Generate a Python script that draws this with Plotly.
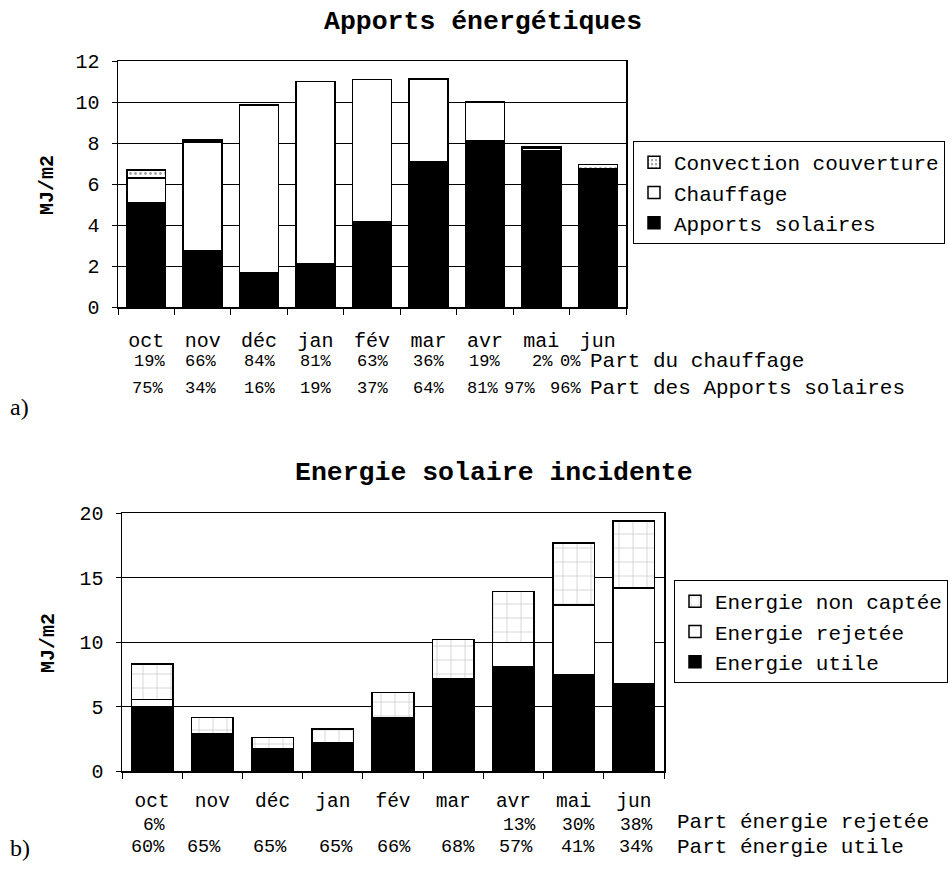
import plotly.graph_objects as go

# ---------------- data ----------------
months = ["oct", "nov", "déc", "jan", "fév", "mar", "avr", "mai", "jun"]

# a) Apports énergétiques (MJ/m2)
apports_solaires = [5.1, 2.75, 1.65, 2.1, 4.15, 7.1, 8.1, 7.6, 6.75]
chauffage = [1.2, 5.3, 8.2, 8.9, 6.95, 4.0, 1.9, 0.15, 0.0]
convection_couverture = [0.38, 0.1, 0.0, 0.0, 0.0, 0.05, 0.0, 0.07, 0.2]
part_chauffage = ["19%", "66%", "84%", "81%", "63%", "36%", "19%", "2%", "0%"]
part_solaires = ["75%", "34%", "16%", "19%", "37%", "64%", "81%", "97%", "96%"]

# b) Energie solaire incidente (MJ/m2)
energie_utile = [4.98, 2.85, 1.7, 2.2, 4.15, 7.15, 8.1, 7.45, 6.75]
energie_rejetee = [0.55, 0.0, 0.0, 0.0, 0.0, 0.0, 1.85, 5.4, 7.45]
energie_non_captee = [2.77, 1.3, 0.88, 1.07, 1.95, 3.05, 3.95, 4.82, 5.17]
part_rejetee = ["6%", "", "", "", "", "", "13%", "30%", "38%"]
part_utile = ["60%", "65%", "65%", "65%", "66%", "68%", "57%", "41%", "34%"]

# ---------------- layout helpers ----------------
W, H = 950, 871
def fx(p):
    return p / W
def fy(p):
    return 1 - p / H

MONO = "Liberation Mono, Courier New, monospace"
SERIF = "Liberation Serif, Times New Roman, serif"
OUT = dict(color="black", width=1.5)

fig = go.Figure()

# top chart
fig.add_bar(x=months, y=apports_solaires, name="Apports solaires",
            marker=dict(color="black", line=OUT), xaxis="x", yaxis="y", legend="legend")
fig.add_bar(x=months, y=chauffage, name="Chauffage",
            marker=dict(color="white", line=OUT), xaxis="x", yaxis="y", legend="legend")
fig.add_bar(x=months, y=convection_couverture, name="Convection couverture",
            marker=dict(color="white", line=OUT,
                        pattern=dict(shape=".", fgcolor="#444", bgcolor="white", size=5, solidity=0.25)),
            xaxis="x", yaxis="y", legend="legend")

# bottom chart
fig.add_bar(x=months, y=energie_utile, name="Energie utile",
            marker=dict(color="black", line=OUT), xaxis="x2", yaxis="y2", legend="legend2")
fig.add_bar(x=months, y=energie_rejetee, name="Energie rejetée",
            marker=dict(color="white", line=OUT), xaxis="x2", yaxis="y2", legend="legend2")
fig.add_bar(x=months, y=energie_non_captee, name="Energie non captée",
            marker=dict(color="white", line=OUT,
                        pattern=dict(shape="+", fgcolor="#777", bgcolor="white", size=14, solidity=0.08)),
            xaxis="x2", yaxis="y2", legend="legend2")

xcommon = dict(type="category", showline=True, linecolor="black", linewidth=1.5, mirror=True,
               ticks="outside", tickson="boundaries", ticklen=6, tickcolor="black",
               tickfont=dict(family=MONO, size=20, color="black"), showgrid=False,
               automargin=False)
ycommon = dict(showline=True, linecolor="black", linewidth=1.5, mirror=True,
               ticks="outside", ticklen=5, tickcolor="black",
               tickfont=dict(family=MONO, size=20, color="black"),
               showgrid=True, gridcolor="black", gridwidth=1, zeroline=False,
               ticklabelstandoff=8, automargin=False)

legcommon = dict(bgcolor="white", bordercolor="black", borderwidth=1,
                 traceorder="reversed", xanchor="left", yanchor="top",
                 itemwidth=30, tracegroupgap=0)

fig.update_layout(
    width=W, height=H,
    margin=dict(l=0, r=0, t=0, b=0, autoexpand=False),
    paper_bgcolor="white", plot_bgcolor="white",
    barmode="stack", bargap=0.31,
    font=dict(family=MONO, color="black"),
    hovermode=False,
    xaxis=dict(xcommon, domain=[fx(118), fx(626)], anchor="y", ticklabelstandoff=14),
    yaxis=dict(ycommon, domain=[fy(307), fy(61)], anchor="x", range=[0, 12], dtick=2),
    xaxis2=dict(xcommon, domain=[fx(122), fx(664)], anchor="y2", ticklabelstandoff=11,
                tickfont=dict(family=MONO, size=19.5, color="black")),
    yaxis2=dict(ycommon, domain=[fy(771), fy(513)], anchor="x2", range=[0, 20], dtick=5),
    legend=dict(legcommon, x=fx(633), y=fy(141), font=dict(family=MONO, size=21, color="black")),
    legend2=dict(legcommon, x=fx(674), y=fy(580), font=dict(family=MONO, size=21, color="black")),
    showlegend=True,
)

ann = []
# titles
ann.append(dict(text="<b>Apports énergétiques</b>", x=fx(483), y=fy(22), xref="paper", yref="paper",
                showarrow=False, font=dict(family=MONO, size=26.5, color="black"),
                xanchor="center", yanchor="middle"))
ann.append(dict(text="<b>Energie solaire incidente</b>", x=fx(494), y=fy(473), xref="paper", yref="paper",
                showarrow=False, font=dict(family=MONO, size=26.5, color="black"),
                xanchor="center", yanchor="middle"))
# y axis titles
for yc in (185, 643):
    ann.append(dict(text="<b>MJ/m2</b>", x=fx(48), y=fy(yc), xref="paper", yref="paper",
                    showarrow=False, textangle=-90, font=dict(family=MONO, size=20, color="black"),
                    xanchor="center", yanchor="middle"))
# panel letters
ann.append(dict(text="a)", x=fx(8), y=fy(407), xref="paper", yref="paper", showarrow=False,
                font=dict(family=SERIF, size=24, color="black"), xanchor="left", yanchor="middle"))
ann.append(dict(text="b)", x=fx(8), y=fy(848), xref="paper", yref="paper", showarrow=False,
                font=dict(family=SERIF, size=24, color="black"), xanchor="left", yanchor="middle"))

# percentage rows: right-aligned, pixel shifts relative to category centres
shift_ch = [21, 15, 18, 17, 18, 18, 17, 14, -15]
shift_so = [19, 15, 18, 17, 18, 18, 15, -4, -15]
shift_rj = [15, 0, 0, 0, 0, 0, 25, 23, 21]
shift_ut = [15, 11, 16, 22, 20, 24, 22, 23, 21]

def row(labels, shifts, xref, ypx, size):
    for m, t, s in zip(months, labels, shifts):
        if t:
            ann.append(dict(text=t, x=m, y=fy(ypx), xref=xref, yref="paper", xshift=s,
                            showarrow=False, font=dict(family=MONO, size=size, color="black"),
                            xanchor="right", yanchor="middle"))

row(part_chauffage, shift_ch, "x", 362, 17)
row(part_solaires, shift_so, "x", 388, 17)
row(part_rejetee, shift_rj, "x2", 825, 18)
row(part_utile, shift_ut, "x2", 847, 18.5)

for txt, xp, yp, sz in [("Part du chauffage", 588, 361, 21), ("Part des Apports solaires", 588, 388, 21),
                        ("Part énergie rejetée", 675, 822, 21), ("Part énergie utile", 675, 847, 21)]:
    ann.append(dict(text=txt, x=fx(xp), y=fy(yp), xref="paper", yref="paper", showarrow=False,
                    font=dict(family=MONO, size=sz, color="black"), xanchor="left", yanchor="middle"))

fig.update_layout(annotations=ann)
fig.write_html("out.html",
               config={"displayModeBar": False, "staticPlot": True},
               post_script="document.body.style.margin='0px';document.body.style.padding='0px';")
